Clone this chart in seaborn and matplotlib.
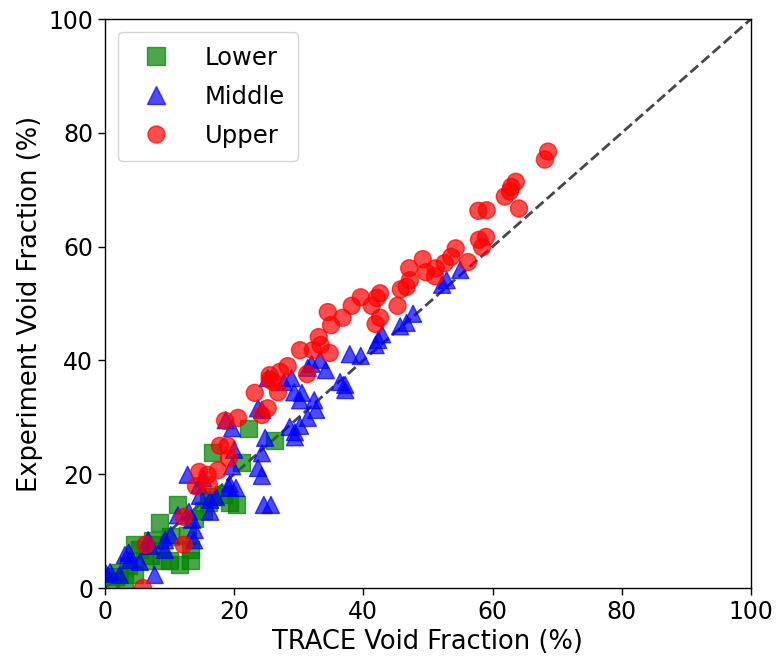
import numpy as np
import pandas as pd
import matplotlib
matplotlib.use("Agg")
import matplotlib.pyplot as plt
import seaborn as sns

lower_x = [22.3, 16.7, 21.1, 20.4, 19.3, 16.6, 18.4, 26.2, 16.1, 15.2, 13.9, 11.3, 8.5, 8.5, 7.3, 10.2,
           11.6, 13.2, 7.0, 6.2, 4.6, 5.4, 3.6, 2.3, 1.7, 0.8, 3.1, 4.6, 8.8, 10.0, 13.2, 12.8]
lower_y = [28.1, 23.9, 22.0, 14.6, 15.1, 16.0, 16.5, 26.0, 15.1, 13.7, 12.3, 14.6, 11.6, 7.6, 8.4, 9.0,
           4.2, 6.7, 5.8, 4.9, 7.6, 6.7, 4.0, 2.8, 2.1, 1.1, 1.4, 2.3, 4.9, 4.9, 4.9, 9.3]

middle_x = [55.0, 52.9, 52.2, 47.7, 45.7, 46.7, 42.9, 41.9, 42.3, 39.6, 37.9, 37.2, 36.4, 37.2, 33.3, 34.2,
            32.0, 31.4, 28.9, 29.3, 30.5, 30.2, 32.4, 32.7, 31.4, 30.2, 29.4, 28.6, 29.4, 25.2, 27.7, 24.3,
            23.7, 24.8, 24.3, 23.7, 24.3, 24.6, 25.7, 18.7, 19.7, 20.0, 19.7, 19.3, 19.2, 20.3, 17.2, 16.3,
            16.3, 14.7, 15.2, 12.8, 14.6, 13.0, 11.3, 13.5, 13.9, 13.8, 10.2, 9.3, 6.7, 7.0, 3.1, 3.7,
            0.8, 0.2, 2.3, 7.7, 9.3, 3.9, 5.4]
middle_y = [55.9, 54.1, 53.3, 48.2, 46.0, 46.6, 44.6, 42.7, 43.6, 40.8, 41.1, 35.7, 36.2, 34.8, 40.1, 38.3,
            39.4, 38.7, 36.9, 34.4, 34.3, 33.0, 33.0, 31.3, 29.9, 28.5, 27.4, 28.3, 26.5, 36.9, 36.2, 31.3,
            31.6, 26.4, 23.7, 21.1, 19.7, 14.6, 14.6, 29.5, 28.1, 24.3, 21.4, 18.3, 17.6, 17.6, 16.0, 15.5,
            13.4, 16.2, 19.3, 19.9, 18.1, 13.4, 12.8, 12.0, 10.2, 8.4, 9.3, 8.4, 8.4, 7.4, 5.8, 6.2,
            2.8, 2.5, 2.3, 2.3, 6.7, 4.9, 4.6]

upper_x = [68.6, 68.1, 63.6, 62.9, 62.7, 61.9, 64.1, 59.1, 57.8, 57.9, 59.0, 58.4, 56.2, 54.3, 53.6, 52.6,
           51.2, 49.7, 49.2, 51.1, 47.1, 47.2, 45.8, 46.7, 45.3, 42.6, 42.1, 41.3, 42.6, 41.9, 39.6, 38.2,
           36.8, 34.5, 35.0, 34.8, 33.1, 33.4, 32.2, 31.3, 30.2, 28.3, 27.1, 26.1, 25.5, 25.5, 26.8, 23.2,
           25.2, 24.3, 20.6, 18.6, 17.8, 19.0, 19.2, 17.5, 15.9, 16.1, 14.6, 14.1, 12.2, 12.2, 6.3, 5.9]
upper_y = [76.7, 75.3, 71.4, 70.5, 69.7, 68.8, 66.7, 66.4, 66.3, 61.2, 61.7, 59.9, 57.3, 59.7, 58.2, 57.1,
           56.2, 55.5, 57.8, 54.8, 56.2, 54.1, 52.5, 52.9, 49.6, 51.8, 51.0, 49.6, 47.5, 46.4, 51.1, 49.6,
           47.5, 48.5, 46.2, 41.3, 44.1, 42.7, 41.8, 37.6, 41.8, 39.0, 38.0, 36.2, 37.4, 36.6, 34.4, 34.3,
           31.6, 30.4, 29.9, 29.4, 25.0, 25.0, 22.8, 20.7, 19.9, 18.1, 20.4, 17.9, 12.5, 7.6, 7.6, 0.0]

groups = ["Lower", "Middle", "Upper"]
df = pd.DataFrame({
    "x": lower_x + middle_x + upper_x,
    "y": lower_y + middle_y + upper_y,
    "group": ["Lower"] * len(lower_x) + ["Middle"] * len(middle_x) + ["Upper"] * len(upper_x),
})

sns.set_style("white")
plt.rcParams["font.family"] = ["DejaVu Sans"]
for k in ["text.color", "axes.labelcolor", "xtick.color", "ytick.color", "axes.edgecolor"]:
    plt.rcParams[k] = "black"

fig = plt.figure(figsize=(7.77, 6.57), dpi=100)
ax = fig.add_axes([0.135, 0.105, 0.8315, 0.866])

ax.plot([0, 100], [0, 100], linestyle="--", color="#333333", alpha=0.9, linewidth=2, zorder=1)

sns.scatterplot(data=df, x="x", y="y", hue="group", style="group",
                hue_order=groups, style_order=groups,
                palette={"Lower": "green", "Middle": "blue", "Upper": "red"},
                markers={"Lower": "s", "Middle": "^", "Upper": "o"},
                s=150, alpha=0.7, edgecolor=None, linewidth=1, ax=ax, zorder=2)

for coll in ax.collections:
    coll.set_edgecolor(coll.get_facecolor())

ax.set_xlim(0, 100)
ax.set_ylim(0, 100)
ax.set_xticks([0, 20, 40, 60, 80, 100])
ax.set_yticks([0, 20, 40, 60, 80, 100])
ax.tick_params(axis="both", labelsize=17, direction="out", length=5, width=1.0,
               left=True, bottom=True, colors="black")
ax.set_xlabel("TRACE Void Fraction (%)", fontsize=18.5, color="black")
ax.set_ylabel("Experiment Void Fraction (%)", fontsize=18.5, color="black")
for sp in ax.spines.values():
    sp.set_color("black")
    sp.set_linewidth(1.0)

leg = ax.legend(loc="upper left", fontsize=17.5, handletextpad=1.0, labelspacing=0.62,
                borderpad=0.55, frameon=True, borderaxespad=0.55)
leg.get_frame().set_edgecolor("#cccccc")
for t in leg.get_texts():
    t.set_color("black")

fig.savefig("out.png", dpi=100)
